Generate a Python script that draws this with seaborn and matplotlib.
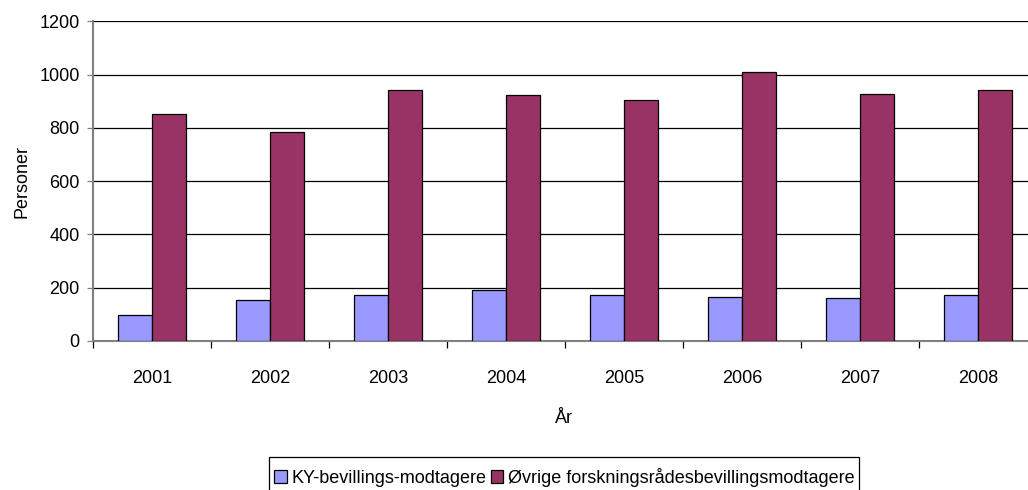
import numpy as np
import pandas as pd
import seaborn as sns
import matplotlib.pyplot as plt
from matplotlib.patches import Rectangle

sns.set_theme(style="white")
plt.rcParams['font.family'] = ['Liberation Sans', 'DejaVu Sans']
plt.rcParams['text.color'] = 'black'
plt.rcParams['axes.labelcolor'] = 'black'
plt.rcParams['xtick.color'] = 'black'
plt.rcParams['ytick.color'] = 'black'

# data
years = ["2001", "2002", "2003", "2004", "2005", "2006", "2007", "2008"]
ky = [99, 155, 172, 192, 172, 167, 160, 172]
ovrige = [852, 784, 941, 924, 904, 1008, 928, 941]
series = ["KY-bevillings-modtagere", "Øvrige forskningsrådesbevillingsmodtagere"]
colors = ["#9999FF", "#993366"]

df = pd.DataFrame({
    "År": years * 2,
    "Personer": ky + ovrige,
    "serie": [series[0]] * len(years) + [series[1]] * len(years),
})

fig = plt.figure(figsize=(10.28, 4.90), dpi=100)
ax = fig.add_axes([93 / 1028, 0.3041, 944.5 / 1028, 0.6524])

sns.barplot(data=df, x="År", y="Personer", hue="serie", hue_order=series,
            palette=colors, width=0.576, edgecolor="black", linewidth=0.9,
            saturation=1, ax=ax, zorder=3)

# grid + axes
ax.set_ylim(0, 1200)
ax.set_yticks(np.arange(0, 1201, 200))
ax.yaxis.grid(True, color="black", lw=0.9, zorder=0)
ax.set_axisbelow(True)
ax.set_xlim(-0.5, 7.5)
ax.set_xticks(range(len(years)))
ax.set_xticklabels(years)
ax.set_xticks(np.arange(-0.5, 8, 1), minor=True)
ax.tick_params(axis="x", which="major", length=0, pad=21, labelsize=13)
ax.tick_params(axis="x", which="minor", length=5, width=0.9, color="black",
               direction="out", bottom=True)
ax.tick_params(axis="y", length=4.5, width=0.9, color="#808080",
               direction="out", left=True, pad=5, labelsize=13)

for side in ["top", "right"]:
    ax.spines[side].set_visible(False)
for side in ["left", "bottom"]:
    ax.spines[side].set_color("#808080")
    ax.spines[side].set_linewidth(1.5)

ax.set_xlabel("År", fontsize=13)
ax.set_ylabel("Personer", fontsize=13)
ax.xaxis.set_label_coords(0.499, -0.215)
ax.yaxis.set_label_coords(-0.066, 0.5)

# legend: box runs off the bottom edge like in the original
handles, labels = ax.get_legend_handles_labels()
ax.get_legend().remove()
fig.legend(handles, series, loc="center left",
           bbox_to_anchor=(274 / 1028, 1 - 477 / 490), borderaxespad=0,
           ncol=2, fontsize=13, frameon=False,
           handlelength=0.7, handleheight=0.7, handletextpad=0.25,
           columnspacing=0.25, borderpad=0)
fig.add_artist(Rectangle((269 / 1028, -0.02), 590 / 1028, 0.02 + 33.5 / 490,
                         transform=fig.transFigure, fill=False,
                         edgecolor="black", linewidth=0.9))

fig.savefig("out.png", dpi=100)
